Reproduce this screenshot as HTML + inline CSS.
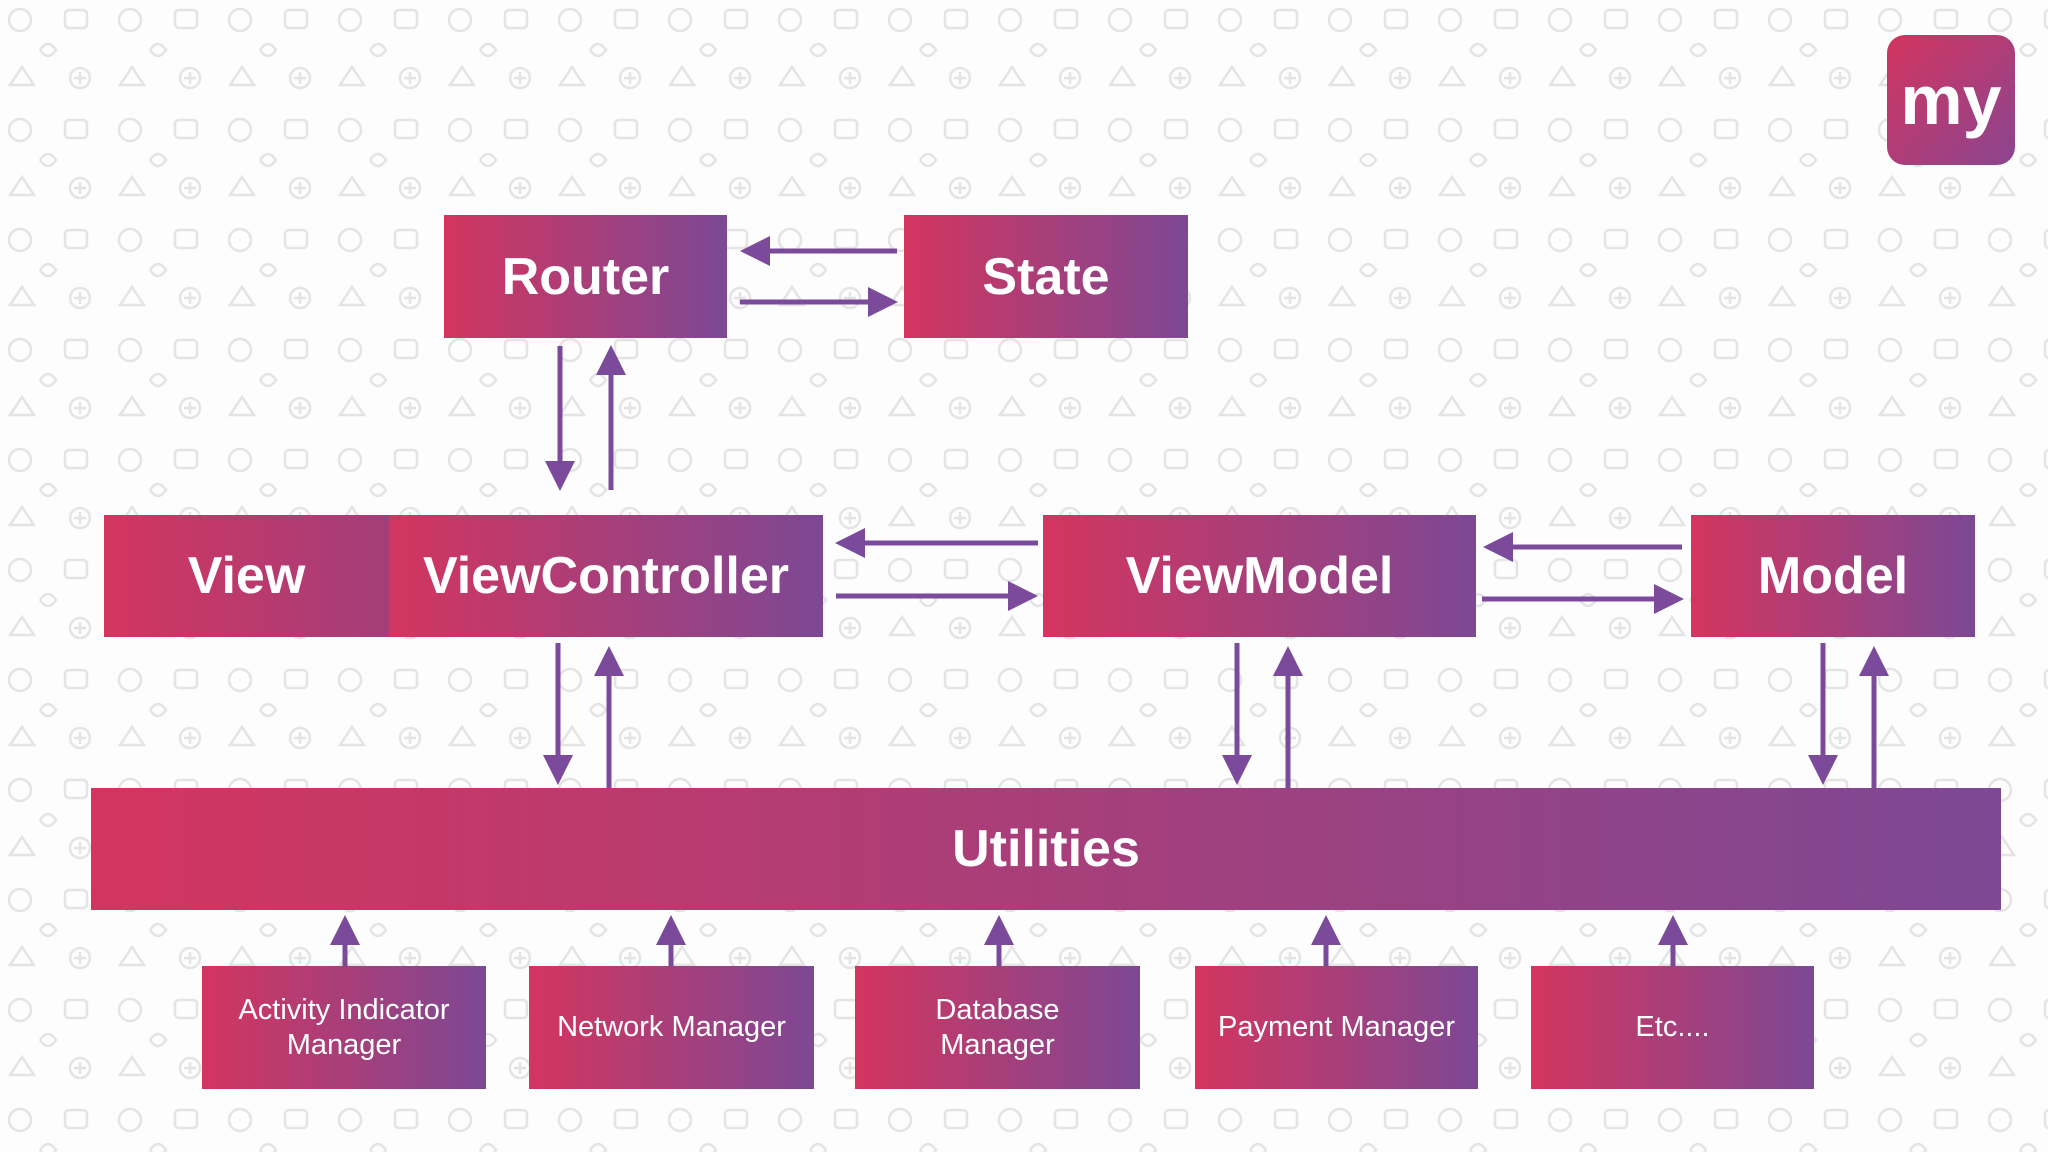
<!DOCTYPE html>
<html><head><meta charset="utf-8"><style>
body{margin:0;width:2048px;height:1152px;overflow:hidden;background:#fdfdfd;font-family:"Liberation Sans",sans-serif;position:relative}
.b{position:absolute;background:linear-gradient(90deg,#d3355f,#7d4894);color:#fff;display:flex;align-items:center;justify-content:center;text-align:center;font-weight:bold}
.big{font-size:52px}
.sm{font-size:29px;font-weight:normal;line-height:1.2}
svg{position:absolute;left:0;top:0}
</style></head><body>
<svg width="2048" height="1152"><defs><pattern id="p" width="110" height="110" patternUnits="userSpaceOnUse">
<g fill="none" stroke="#e4e4e4" stroke-width="2.5">
<circle cx="20" cy="20" r="11"/><rect x="65" y="10" width="22" height="18" rx="4"/>
<path d="M10 85 l12 -18 l12 18 z"/><circle cx="80" cy="78" r="10"/><path d="M74 78h12M80 72v12"/>
<path d="M40 50 q8 -12 16 0 q-8 12 -16 0"/>
</g></pattern></defs><rect width="2048" height="1152" fill="url(#p)"/></svg>
<div class="b big" style="left:444px;top:215px;width:283px;height:123px">Router</div>
<div class="b big" style="left:904px;top:215px;width:284px;height:123px">State</div>
<div class="b big" style="left:104px;top:515px;width:285px;height:122px;background:linear-gradient(90deg,#d3355f,#a33e7a)">View</div>
<div class="b big" style="left:389px;top:515px;width:434px;height:122px">ViewController</div>
<div class="b big" style="left:1043px;top:515px;width:433px;height:122px">ViewModel</div>
<div class="b big" style="left:1691px;top:515px;width:284px;height:122px">Model</div>
<div class="b big" style="left:91px;top:788px;width:1910px;height:122px">Utilities</div>
<div class="b sm" style="left:202px;top:966px;width:284px;height:123px">Activity Indicator<br>Manager</div>
<div class="b sm" style="left:529px;top:966px;width:285px;height:123px">Network Manager</div>
<div class="b sm" style="left:855px;top:966px;width:285px;height:123px">Database<br>Manager</div>
<div class="b sm" style="left:1195px;top:966px;width:283px;height:123px">Payment Manager</div>
<div class="b sm" style="left:1531px;top:966px;width:283px;height:123px">Etc....</div>
<div style="position:absolute;left:1887px;top:35px;width:128px;height:130px;border-radius:18px;background:linear-gradient(135deg,#d3355f,#8a4590);color:#fff;font-size:70px;font-weight:bold;display:flex;align-items:center;justify-content:center">my</div>
<svg width="2048" height="1152">
<defs><marker id="a" markerWidth="6" markerHeight="6" refX="5" refY="3" orient="auto" markerUnits="strokeWidth"><path d="M0,0L6,3L0,6z" fill="#7b4a9a"/></marker></defs>
<g stroke="#7b4a9a" stroke-width="5" marker-end="url(#a)">
<line x1="897" y1="251" x2="745" y2="251"/><line x1="740" y1="302" x2="893" y2="302"/>
<line x1="560" y1="346" x2="560" y2="486"/><line x1="611" y1="490" x2="611" y2="350"/>
<line x1="1038" y1="543" x2="840" y2="543"/><line x1="836" y1="596" x2="1033" y2="596"/>
<line x1="1682" y1="547" x2="1488" y2="547"/><line x1="1482" y1="599" x2="1679" y2="599"/>
<line x1="558" y1="643" x2="558" y2="780"/><line x1="609" y1="788" x2="609" y2="651"/>
<line x1="1237" y1="643" x2="1237" y2="780"/><line x1="1288" y1="788" x2="1288" y2="651"/>
<line x1="1823" y1="643" x2="1823" y2="780"/><line x1="1874" y1="788" x2="1874" y2="651"/>
<line x1="345" y1="966" x2="345" y2="920"/><line x1="671" y1="966" x2="671" y2="920"/>
<line x1="999" y1="966" x2="999" y2="920"/><line x1="1326" y1="966" x2="1326" y2="920"/>
<line x1="1673" y1="966" x2="1673" y2="920"/>
</g>
</svg>
</body></html>
